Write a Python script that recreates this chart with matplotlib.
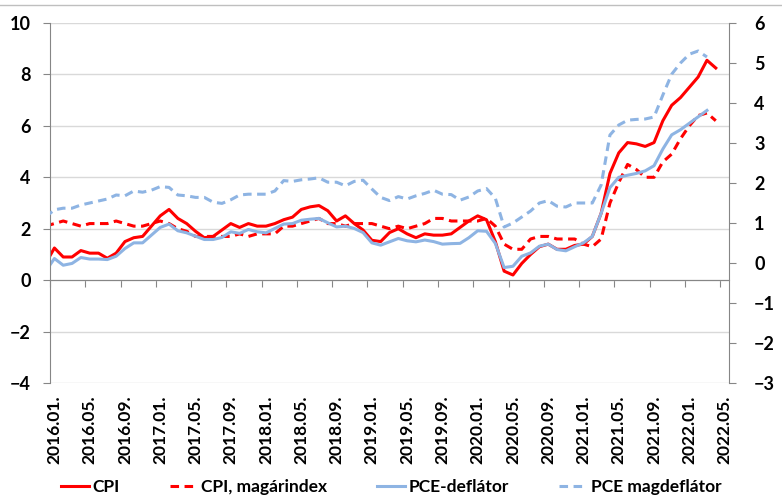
import matplotlib
matplotlib.use("Agg")
import matplotlib.pyplot as plt
from matplotlib.lines import Line2D
import numpy as np

plt.rcParams['font.family'] = ['Lato', 'DejaVu Sans']
plt.rcParams['font.weight'] = 'bold'

# monthly data, 2015.12 .. 2022.04 (first month only feeds the clipped start of the lines)
cpi = [0.65,
       1.25, 0.9, 0.9, 1.15, 1.05, 1.05, 0.85, 1.05, 1.5, 1.65, 1.7, 2.1,
       2.5, 2.75, 2.4, 2.2, 1.9, 1.65, 1.7, 1.95, 2.2, 2.05, 2.2, 2.1,
       2.1, 2.2, 2.35, 2.45, 2.75, 2.85, 2.9, 2.7, 2.3, 2.5, 2.2, 1.95,
       1.55, 1.5, 1.85, 2.0, 1.8, 1.65, 1.8, 1.75, 1.75, 1.8, 2.05, 2.3,
       2.5, 2.35, 1.5, 0.35, 0.2, 0.65, 1.0, 1.3, 1.4, 1.2, 1.2, 1.35,
       1.4, 1.7, 2.6, 4.15, 4.95, 5.35, 5.3, 5.2, 5.35, 6.2, 6.8, 7.1,
       7.5, 7.9, 8.55, 8.25]
cpi_core = [2.1,
            2.2, 2.3, 2.2, 2.1, 2.2, 2.2, 2.2, 2.3, 2.2, 2.1, 2.1, 2.2,
            2.3, 2.2, 2.0, 1.9, 1.7, 1.7, 1.7, 1.7, 1.7, 1.8, 1.7, 1.8,
            1.8, 1.8, 2.1, 2.1, 2.2, 2.3, 2.4, 2.2, 2.2, 2.1, 2.2, 2.2,
            2.2, 2.1, 2.0, 2.1, 2.0, 2.1, 2.2, 2.4, 2.4, 2.3, 2.3, 2.3,
            2.3, 2.4, 2.1, 1.4, 1.2, 1.2, 1.6, 1.7, 1.7, 1.6, 1.6, 1.6,
            1.4, 1.3, 1.6, 3.0, 3.8, 4.5, 4.3, 4.0, 4.0, 4.6, 4.9, 5.5,
            6.0, 6.4, 6.5, 6.2]
pce = [0.35,
       0.84, 0.58, 0.65, 0.88, 0.82, 0.82, 0.8, 0.93, 1.23, 1.45, 1.45, 1.75,
       2.05, 2.18, 1.92, 1.84, 1.71, 1.58, 1.58, 1.66, 1.88, 1.82, 1.97, 1.88,
       1.84, 2.01, 2.18, 2.2, 2.33, 2.37, 2.4, 2.23, 2.07, 2.1, 2.01, 1.85,
       1.45, 1.36, 1.49, 1.62, 1.53, 1.49, 1.56, 1.5, 1.4, 1.42, 1.43, 1.65,
       1.92, 1.9, 1.43, 0.49, 0.54, 0.93, 1.06, 1.32, 1.4, 1.19, 1.14, 1.3,
       1.45, 1.7, 2.6, 3.6, 4.0, 4.08, 4.15, 4.25, 4.45, 5.1, 5.65, 5.85,
       6.1, 6.35, 6.6]
# right axis
pce_core = [1.15,
            1.33, 1.37, 1.37, 1.45, 1.5, 1.55, 1.6, 1.7, 1.68, 1.8, 1.77, 1.82,
            1.91, 1.89, 1.7, 1.68, 1.64, 1.64, 1.52, 1.49, 1.58, 1.7, 1.72, 1.72,
            1.72, 1.8, 2.06, 2.04, 2.08, 2.1, 2.13, 2.02, 2.02, 1.93, 2.04, 2.07,
            1.85, 1.64, 1.56, 1.66, 1.6, 1.68, 1.74, 1.82, 1.72, 1.71, 1.57, 1.65,
            1.8, 1.86, 1.62, 0.9, 1.0, 1.15, 1.3, 1.5, 1.56, 1.42, 1.4, 1.5,
            1.5, 1.5, 1.95, 3.2, 3.45, 3.57, 3.59, 3.6, 3.65, 4.2, 4.72, 5.0,
            5.22, 5.3, 5.15]

tick_labels = ["2016.01.", "2016.05.", "2016.09.", "2017.01.", "2017.05.",
               "2017.09.", "2018.01.", "2018.05.", "2018.09.", "2019.01.",
               "2019.05.", "2019.09.", "2020.01.", "2020.05.", "2020.09.",
               "2021.01.", "2021.05.", "2021.09.", "2022.01.", "2022.05."]

red = '#FF0000'
blue = '#8EB4E3'
axcol = '#868686'
n_cat = 77

fig = plt.figure(figsize=(7.82, 4.97), dpi=100)
ax = fig.add_axes([50 / 782, 1 - 383 / 497, 679 / 782, 360 / 497])
ax2 = ax.twinx()

x = np.arange(len(cpi)) - 0.5
ax.plot(x, cpi, color=red, lw=2.2, label='CPI')
ax.plot(x, cpi_core, color=red, lw=2.2, dashes=(2.8, 1.8), label='CPI, magárindex')
xp = np.arange(len(pce)) - 0.5
ax.plot(xp, pce, color=blue, lw=2.2, label='PCE-deflátor')
ax2.plot(np.arange(len(pce_core)) - 0.5, pce_core, color=blue, lw=2.2,
         dashes=(2.8, 1.8), label='PCE magdeflátor')

ax.set_xlim(0, n_cat)
ax.set_ylim(-4, 10)
ax.set_yticks(range(-4, 11, 2))
ax2.set_ylim(-3, 6)
ax2.set_yticks(range(-3, 7))

ax.yaxis.grid(True, color='#D9D9D9', lw=1)
ax.set_axisbelow(True)

for s in ['top', 'right']:
    ax.spines[s].set_visible(False)
for s in ['top', 'left', 'bottom']:
    ax2.spines[s].set_visible(False)
ax.spines['left'].set_color(axcol)
ax2.spines['right'].set_color(axcol)
ax.spines['bottom'].set_position(('data', 0))
ax.spines['bottom'].set_color(axcol)

ax.set_xticks(range(0, n_cat, 4))
ax.tick_params(axis='x', direction='out', length=5, color=axcol, labelbottom=False)
ax.tick_params(axis='y', direction='out', length=5, color=axcol, pad=9, labelsize=13)
ax2.tick_params(axis='y', direction='out', length=5, color=axcol, pad=13, labelsize=13)

sec = ax.secondary_xaxis('bottom')
sec.spines['bottom'].set_visible(False)
sec.set_xticks([p + 0.5 for p in range(0, n_cat, 4)], labels=tick_labels, rotation=90)
sec.tick_params(length=0, pad=9, labelsize=12.5)

handles = ax.get_lines() + ax2.get_lines()
fig.legend(handles, [h.get_label() for h in handles], loc='center',
           bbox_to_anchor=(0.5, 0.02), ncol=4, frameon=False, fontsize=12.5,
           handlelength=1.6, handletextpad=0.2, columnspacing=2.9)

fig.add_artist(Line2D([0, 1], [1 - 5 / 497, 1 - 5 / 497], color='#BFBFBF', lw=1))

fig.savefig('out.png', dpi=100)
